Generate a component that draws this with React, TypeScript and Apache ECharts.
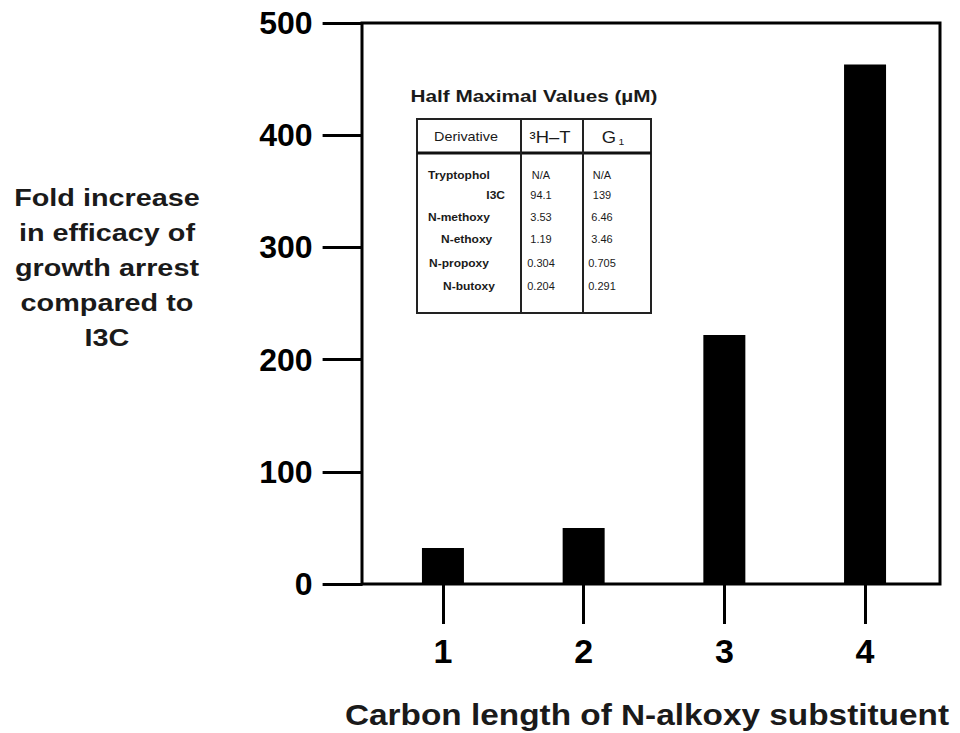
import React, { useEffect, useRef } from "react";
import * as echarts from "echarts";

const categories = ["1", "2", "3", "4"];
const foldIncrease = [32, 50, 222, 463];
const yTicks = { min: 0, max: 500, interval: 100 };

const tableTitle = "Half Maximal Values (µM)";
const tableHeaders = ["Derivative", "³H–T", "G"];
const derivatives = ["Tryptophol", "I3C", "N-methoxy", "N-ethoxy", "N-propoxy", "N-butoxy"];
const htValues = ["N/A", "94.1", "3.53", "1.19", "0.304", "0.204"];
const g1Values = ["N/A", "139", "6.46", "3.46", "0.705", "0.291"];

const yTitle = "Fold increase\nin efficacy of\ngrowth arrest\ncompared to\nI3C";
const xTitle = "Carbon length of N-alkoxy substituent";

const FONT = "'Liberation Sans', Arial, Helvetica, sans-serif";

function txt(
  text: string,
  x: number,
  y: number,
  fontSize: number,
  opts: { bold?: boolean; align?: string; scaleX?: number; lineHeight?: number; rich?: any } = {}
) {
  const style: any = {
    text,
    fontSize,
    fontWeight: opts.bold ? "bold" : "normal",
    fontFamily: FONT,
    fill: "#1a1a1a",
    textAlign: opts.align || "center",
    textVerticalAlign: "middle",
  };
  if (opts.lineHeight) style.lineHeight = opts.lineHeight;
  if (opts.rich) style.rich = opts.rich;
  return { type: "text", x, y, scaleX: opts.scaleX || 1, style };
}

export default function App() {
  const ref = useRef<HTMLDivElement>(null);
  useEffect(() => {
    document.body.style.margin = "0";
    if (!ref.current) return;
    const chart = echarts.init(ref.current, null, { renderer: "svg" });

    const rowY = [175, 195, 217, 239, 263, 286];
    const labelX = [428, 505, 428, 441, 429, 443];
    const labelAlign = ["left", "right", "left", "left", "left", "left"];

    const tableGraphics: any[] = [
      txt(tableTitle, 534, 96, 17, { bold: true, scaleX: 1.22 }),
      {
        type: "rect",
        shape: { x: 417, y: 119, width: 234, height: 194 },
        style: { fill: "#fff", stroke: "#222", lineWidth: 2 },
      },
      {
        type: "line",
        shape: { x1: 417, y1: 153, x2: 651, y2: 153 },
        style: { stroke: "#111", lineWidth: 3 },
      },
      {
        type: "line",
        shape: { x1: 521, y1: 119, x2: 521, y2: 313 },
        style: { stroke: "#222", lineWidth: 2 },
      },
      {
        type: "line",
        shape: { x1: 583, y1: 119, x2: 583, y2: 313 },
        style: { stroke: "#222", lineWidth: 2 },
      },
      txt(tableHeaders[0], 466, 137, 12, { scaleX: 1.2 }),
      txt(tableHeaders[1], 550, 137, 16, { scaleX: 1.15 }),
      txt("{a|" + tableHeaders[2] + "}{b|1}", 613, 137, 16, {
        scaleX: 1.15,
        rich: {
          a: { fontSize: 16, fontFamily: FONT, fill: "#1a1a1a" },
          b: { fontSize: 9, fontFamily: FONT, fill: "#1a1a1a", padding: [9, 0, 0, 2] },
        },
      }),
    ];

    derivatives.forEach((d, i) => {
      tableGraphics.push(txt(d, labelX[i], rowY[i], 10, { bold: true, align: labelAlign[i], scaleX: 1.2 }));
      tableGraphics.push(txt(htValues[i], 541, rowY[i], 10, { scaleX: 1.1 }));
      tableGraphics.push(txt(g1Values[i], 602, rowY[i], 10, { scaleX: 1.1 }));
    });

    const option: any = {
      animation: false,
      backgroundColor: "#fff",
      textStyle: { fontFamily: FONT },
      grid: [
        { left: 372.6, right: 24.6, top: 23, bottom: 149, containLabel: false },
        {
          left: 362,
          right: 20,
          top: 23,
          bottom: 149,
          show: true,
          borderColor: "#000",
          borderWidth: 3,
          backgroundColor: "transparent",
        },
      ],
      xAxis: [
        {
          type: "category",
          gridIndex: 0,
          data: categories,
          axisLine: { show: false },
          axisTick: {
            show: true,
            alignWithLabel: true,
            length: 40,
            lineStyle: { color: "#000", width: 3 },
          },
          axisLabel: {
            fontSize: 34,
            fontWeight: "bold",
            color: "#000",
            margin: 50,
            fontFamily: FONT,
          },
          splitLine: { show: false },
        },
        { type: "value", gridIndex: 1, show: false, min: 0, max: 1 },
      ],
      yAxis: [
        {
          type: "value",
          gridIndex: 0,
          min: yTicks.min,
          max: yTicks.max,
          interval: yTicks.interval,
          offset: 10,
          axisLine: { show: false },
          axisTick: {
            show: true,
            length: 40,
            lineStyle: { color: "#000", width: 3 },
          },
          axisLabel: {
            fontSize: 32,
            fontWeight: "bold",
            color: "#000",
            margin: 50,
            fontFamily: FONT,
          },
          splitLine: { show: false },
        },
        { type: "value", gridIndex: 1, show: false, min: 0, max: 1 },
      ],
      series: [
        {
          type: "bar",
          xAxisIndex: 0,
          yAxisIndex: 0,
          data: foldIncrease,
          barWidth: 42,
          itemStyle: { color: "#000" },
        },
      ],
      graphic: [
        txt(yTitle, 107, 268, 24, { bold: true, scaleX: 1.2, lineHeight: 35 }),
        txt(xTitle, 647, 715, 29, { bold: true, scaleX: 1.15 }),
        ...tableGraphics,
      ],
    };
    chart.setOption(option);
    return () => chart.dispose();
  }, []);
  return <div ref={ref} style={{ width: 960, height: 733 }} />;
}
